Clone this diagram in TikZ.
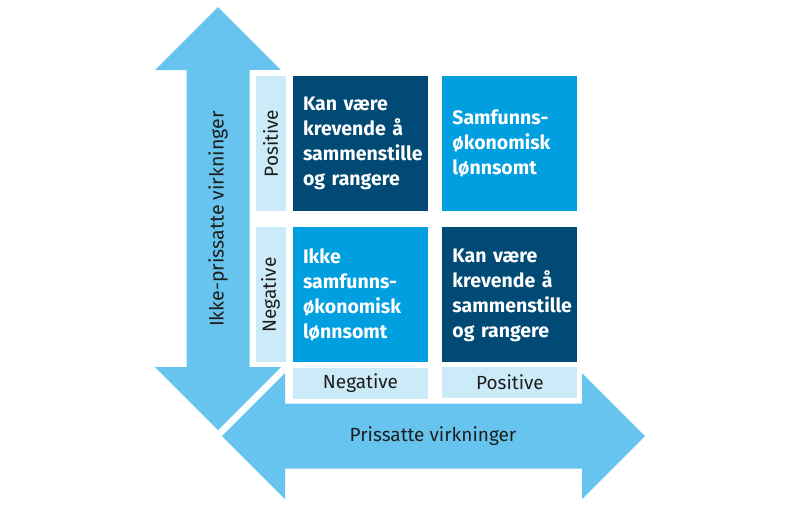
\documentclass[tikz,border=0pt]{standalone}
\usepackage{fontspec}
\setmainfont{Fira Sans}
\usetikzlibrary{positioning}
\definecolor{pilblaa}{HTML}{66C4EE}
\definecolor{moerkblaa}{HTML}{004A75}
\definecolor{klarblaa}{HTML}{009FE0}
\definecolor{lysblaa}{HTML}{CCEBF8}
\definecolor{tekstgraa}{HTML}{1E1E1E}

\begin{document}
\begin{tikzpicture}[x=1pt,y=-1pt,
    feltboks/.style={minimum width=135pt,minimum height=135pt,inner sep=0pt,
        inner xsep=10pt,text width=115pt,align=left,text=white,
        font=\fontsize{19.5}{25}\selectfont\bfseries},
    aksetekst/.style={fill=lysblaa,inner sep=0pt,text=tekstgraa,
        font=\fontsize{19}{22}\selectfont}]
    \useasboundingbox (0,0) rectangle (800,507);

    % Ikke-prissatte: pil opp og ned, midt i x=218
    \fill[pilblaa] (218,7) -- (281,70) -- (249.5,70) -- (249.5,367) -- (281,367)
        -- (218,430) -- (155,367) -- (186.5,367) -- (186.5,70) -- (155,70) -- cycle;

    % Hvit bakgrunn under matrisen
    \fill[white] (250,70) rectangle (582,367);
    \fill[white] (286,362) rectangle (582,403);

    % Prissatte: pil venstre og hoyre, midt i y=436
    \draw[white,fill=white,line width=10pt,line join=miter] (222,436) -- (285,373) -- (285,403.5)
        -- (582,403.5) -- (582,373) -- (645,436) -- (582,499) -- (582,468.5)
        -- (285,468.5) -- (285,499) -- cycle;
    \fill[pilblaa] (222,436) -- (285,373) -- (285,403.5) -- (582,403.5) -- (582,373)
        -- (645,436) -- (582,499) -- (582,468.5) -- (285,468.5) -- (285,499) -- cycle;

    \node[rotate=90,text=tekstgraa,font=\fontsize{19.5}{22}\selectfont] (ikkepris) at (218,219) {Ikke-prissatte virkninger};
    \node[text=tekstgraa,font=\fontsize{19}{22}\selectfont] (pris) at (433,436) {Prissatte virkninger};

    % Fire felt
    \node[feltboks,fill=moerkblaa] (tl) at (360.5,143.5) {Kan være\\krevende å\\sammenstille\\og rangere};
    \node[feltboks,fill=klarblaa,right=14pt of tl] (tr) {Samfunns-\\økonomisk\\lønnsomt};
    \node[feltboks,fill=klarblaa,below=16pt of tl] (bl) {Ikke\\samfunns-\\økonomisk\\lønnsomt};
    \node[feltboks,fill=moerkblaa,below=16pt of tr] (br) {Kan være\\krevende å\\sammenstille\\og rangere};

    % Aksetekster
    \node[aksetekst,rotate=90,minimum width=135pt,minimum height=30pt,anchor=south] (vpos) at ([xshift=-7pt]tl.west) {Positive};
    \node[aksetekst,rotate=90,minimum width=135pt,minimum height=30pt,anchor=south] (vneg) at ([xshift=-7pt]bl.west) {Negative};
    \node[aksetekst,minimum width=135pt,minimum height=31pt,below=5pt of bl] (hneg) {Negative};
    \node[aksetekst,minimum width=135pt,minimum height=31pt,below=4pt of br] (hpos) {Positive};
\end{tikzpicture}
\end{document}
